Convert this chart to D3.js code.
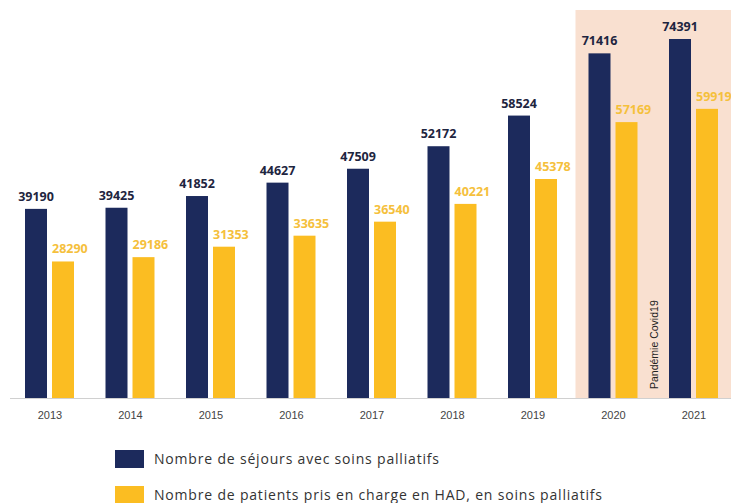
<!DOCTYPE html>
<html><head><meta charset="utf-8">
<script src="https://cdn.jsdelivr.net/npm/d3@7"></script>
<style>body{margin:0;background:#fff;overflow:hidden}svg{display:block}</style>
</head><body>
<svg id="c" width="731" height="503"></svg>
<script>
const years = ["2013","2014","2015","2016","2017","2018","2019","2020","2021"];
const sejours = [39190,39425,41852,44627,47509,52172,58524,71416,74391];
const patients = [28290,29186,31353,33635,36540,40221,45378,57169,59919];
const covidYears = ["2020","2021"];
const covidLabel = "Pandémie Covid19";
const legendLabels = ["Nombre de séjours avec soins palliatifs","Nombre de patients pris en charge en HAD, en soins palliatifs"];
const legendWidths = [285, 448];

const navy = "#1c2a5c", yellow = "#fbbd22", yellowText = "#f5c03c";
const svg = d3.select("#c");
const baseY = 398;
const x = d3.scalePoint().domain(years).range([50, 694]);
const y = d3.scaleLinear().domain([0, 74391]).range([baseY, 39]);
const bw = 22, gap = 5;

// covid band
const bandL = x(covidYears[0]) - 38;
svg.append("rect").attr("x", bandL).attr("y", 10).attr("width", 731 - bandL).attr("height", baseY - 10).attr("fill", "#f9e0d0");

// axis line
svg.append("line").attr("x1", 10).attr("x2", 731).attr("y1", baseY + 0.5).attr("y2", baseY + 0.5).attr("stroke", "#d0d0d0").attr("stroke-width", 1);

const g = svg.append("g").selectAll("g").data(years).join("g");
g.append("rect").attr("x", d => x(d) - bw - gap/2 - 0.5).attr("width", bw)
  .attr("y", (d,i) => y(sejours[i])).attr("height", (d,i) => baseY - y(sejours[i])).attr("fill", navy);
g.append("rect").attr("x", d => x(d) + gap/2 - 0.5).attr("width", bw)
  .attr("y", (d,i) => y(patients[i])).attr("height", (d,i) => baseY - y(patients[i])).attr("fill", yellow);
g.append("text").attr("x", d => x(d) - bw/2 - gap/2 - 0.5).attr("y", (d,i) => y(sejours[i]) - 8)
  .attr("text-anchor", "middle").attr("font-family", "Open Sans, sans-serif").attr("font-weight", 700)
  .attr("font-size", 12.5).attr("fill", "#1e2540").text((d,i) => sejours[i]);
g.append("text").attr("x", d => x(d) + gap/2 - 0.5).attr("y", (d,i) => y(patients[i]) - 8)
  .attr("text-anchor", "start").attr("font-family", "Open Sans, sans-serif").attr("font-weight", 700)
  .attr("font-size", 12.5).attr("fill", yellowText).text((d,i) => patients[i]);
g.append("text").attr("x", d => x(d)).attr("y", 419).attr("text-anchor", "middle")
  .attr("font-family", "Liberation Sans Narrow, Liberation Sans, sans-serif").attr("font-size", 11).attr("fill", "#444").text(d => d);

// covid label
const cx = x(covidYears[0]) + 44;
svg.append("text").attr("transform", `translate(${cx},${389}) rotate(-90)`).attr("text-anchor", "start")
  .attr("font-family", "Liberation Sans, sans-serif").attr("font-size", 10.5).attr("fill", "#222").text(covidLabel);

// legend
const lg = svg.append("g").selectAll("g").data(legendLabels).join("g")
  .attr("transform", (d,i) => `translate(115,${450 + i*36})`);
lg.append("rect").attr("width", 29).attr("height", 18).attr("fill", (d,i) => i ? yellow : navy);
lg.append("text").attr("x", 39).attr("y", 14).attr("font-family", "Open Sans, sans-serif").attr("font-size", 14)
  .attr("textLength", (d,i) => legendWidths[i]).attr("lengthAdjust", "spacing")
  .attr("fill", "#333").text(d => d);
</script>
</body></html>
